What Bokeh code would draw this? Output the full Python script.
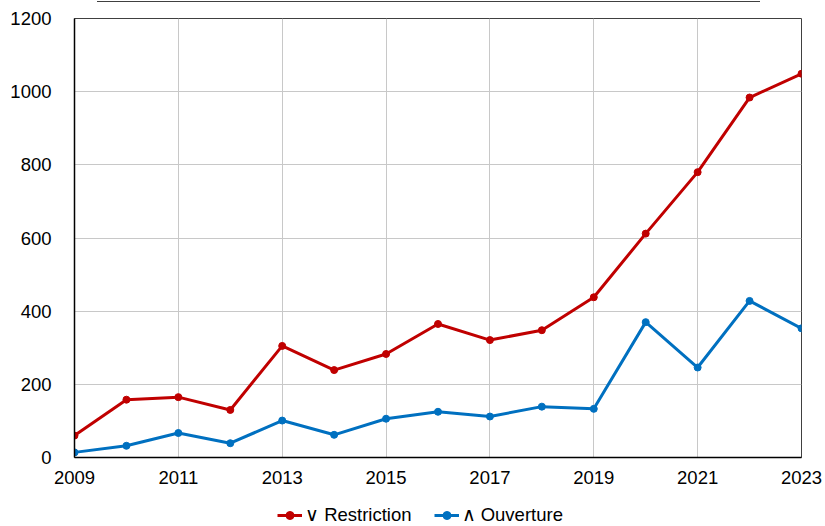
from bokeh.plotting import figure
from bokeh.models import Legend, FixedTicker, Range1d, Div
from bokeh.layouts import column
from bokeh.embed import file_html
from bokeh.resources import INLINE

years = list(range(2009, 2024))
restriction = [60, 158, 165, 130, 305, 239, 283, 365, 321, 348, 438, 612, 780, 984, 1049]
ouverture = [14, 32, 67, 39, 101, 62, 106, 125, 112, 139, 133, 370, 246, 428, 353]
x_ticks = [2009, 2011, 2013, 2015, 2017, 2019, 2021, 2023]
y_ticks = [0, 200, 400, 600, 800, 1000, 1200]
label_r = "∨ Restriction"
label_o = "∧ Ouverture"

RED = "#C00000"
BLUE = "#0070C0"
FONT = "Liberation Sans"
FS = "18.5px"

top_rule = Div(text="", width=663, height=1, margin=(1, 0, 0, 97),
               styles={"border-top": "1px solid #404040"})

p = figure(width=825, height=484, output_backend="svg", toolbar_location=None,
           x_range=Range1d(2009, 2023), y_range=Range1d(0, 1200),
           min_border_left=74, min_border_right=24, min_border_top=16, min_border_bottom=27)

p.outline_line_color = "#404040"
p.outline_line_width = 1

p.line(years, restriction, color=RED, line_width=3)
p.scatter(years, restriction, size=7, color=RED)
p.line(years, ouverture, color=BLUE, line_width=3)
p.scatter(years, ouverture, size=7, color=BLUE)

for ax in (p.xaxis[0], p.yaxis[0]):
    ax.axis_line_color = "black"
    ax.axis_line_width = 1.5
    ax.major_tick_line_color = None
    ax.minor_tick_line_color = None
    ax.major_label_text_font = FONT
    ax.major_label_text_font_size = FS
    ax.major_label_text_color = "black"

p.xaxis.ticker = FixedTicker(ticks=x_ticks)
p.yaxis.ticker = FixedTicker(ticks=y_ticks)
p.xaxis.major_label_standoff = 7
p.yaxis.major_label_standoff = 17

p.xgrid.ticker = FixedTicker(ticks=x_ticks)
p.ygrid.ticker = FixedTicker(ticks=y_ticks)
p.grid.grid_line_color = "#c8c8c8"
p.grid.grid_line_width = 1

# legend strip below the chart (its frame is aligned with the chart frame at x=74)
lg = figure(width=825, height=40, output_backend="svg", toolbar_location=None,
            x_range=Range1d(0, 1), y_range=Range1d(0, 1),
            x_axis_location=None, y_axis_location=None,
            min_border_left=0, min_border_right=0, min_border_top=0, min_border_bottom=0)
lg.grid.visible = False
lg.outline_line_color = None
a1 = lg.line([-5, -4], [-5, -4], color=RED, line_width=3)
a1s = lg.scatter([-5], [-5], size=7, color=RED)
a2 = lg.line([-5, -4], [-5, -4], color=BLUE, line_width=3)
a2s = lg.scatter([-5], [-5], size=7, color=BLUE)

legend = Legend(items=[(label_r, [a1, a1s]), (label_o, [a2, a2s])],
                orientation="horizontal", location=(203, 0),
                label_text_font=FONT, label_text_font_size=FS,
                label_text_color="black",
                glyph_width=25, glyph_height=20, spacing=22, label_standoff=3,
                border_line_color=None, background_fill_alpha=0,
                margin=0, padding=0)
lg.add_layout(legend, "center")

layout = column(top_rule, p, lg, spacing=0)

html = file_html(layout, INLINE)
open("out.html", "w").write(html)
